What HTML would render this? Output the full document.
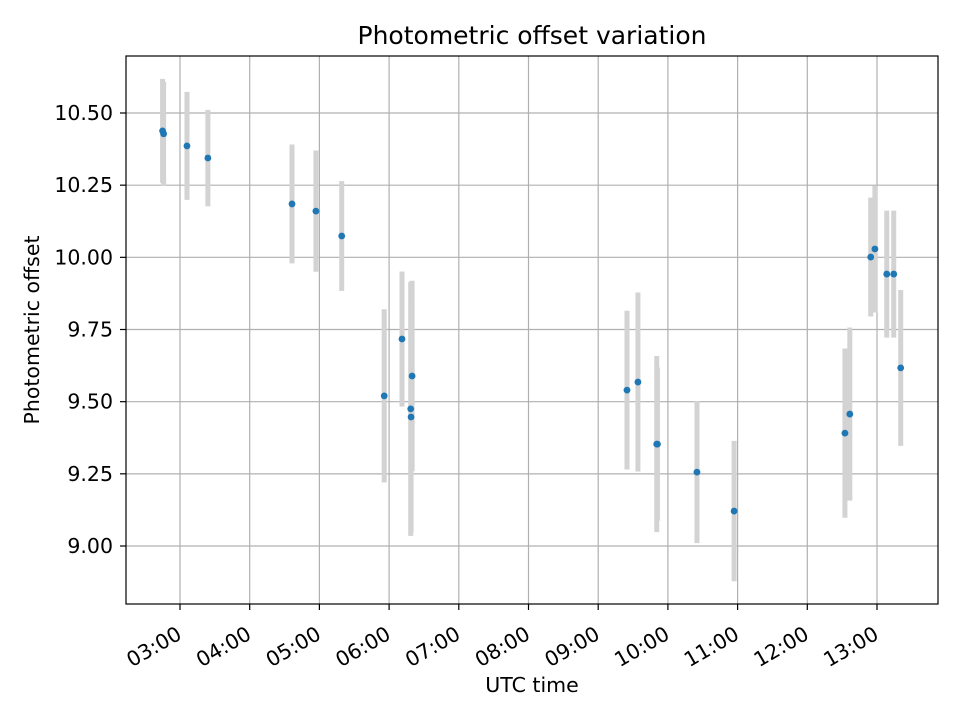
<!DOCTYPE html>
<html><head><meta charset="utf-8"><style>
body{margin:0;background:#fff;font-family:"DejaVu Sans","Liberation Sans",sans-serif}
</style></head><body>
<svg id="chart" width="960" height="720" xmlns="http://www.w3.org/2000/svg" font-family="DejaVu Sans, Liberation Sans, sans-serif">
<rect width="960" height="720" fill="#fff"/>
<text x="532" y="44" text-anchor="middle" font-size="25">Photometric offset variation</text>
<text x="532" y="692" text-anchor="middle" font-size="20.5">UTC time</text>
<text transform="translate(39,330) rotate(-90)" text-anchor="middle" font-size="20.5">Photometric offset</text>
<g id="grid"></g><g id="errs"></g><g id="pts"></g><g id="ticks"></g>
<rect x="126" y="56" width="812" height="548" fill="none" stroke="#000" stroke-width="1.2"/>
</svg>
<script>
const times=[2.75,2.765,3.10,3.40,4.607,4.95,5.32,5.93,6.185,6.33,6.31,6.315,9.413,9.57,9.84,9.85,10.417,10.95,12.54,12.61,12.91,12.97,13.14,13.24,13.34];
const values=[10.438,10.428,10.386,10.344,10.185,10.16,10.074,9.52,9.717,9.589,9.475,9.447,9.540,9.568,9.353,9.353,9.256,9.121,9.391,9.457,10.001,10.029,9.942,9.942,9.617];
const errors=[0.18,0.18,0.187,0.167,0.206,0.21,0.19,0.30,0.234,0.33,0.44,0.40,0.275,0.31,0.305,0.265,0.246,0.243,0.293,0.30,0.206,0.22,0.22,0.22,0.27];
const xTicks=[3,4,5,6,7,8,9,10,11,12,13];
const xTickLabels=["03:00","04:00","05:00","06:00","07:00","08:00","09:00","10:00","11:00","12:00","13:00"];
const yTicks=[9.0,9.25,9.5,9.75,10.0,10.25,10.5];
const yTickLabels=["9.00","9.25","9.50","9.75","10.00","10.25","10.50"];
const NS="http://www.w3.org/2000/svg";
const X=h=>180+(h-3)*69.7;
const Y=v=>113+(10.5-v)*288.67;
function mk(tag,attrs,parent){const e=document.createElementNS(NS,tag);for(const k in attrs)e.setAttribute(k,attrs[k]);parent.appendChild(e);return e;}
const grid=document.getElementById('grid'),errs=document.getElementById('errs'),pts=document.getElementById('pts'),ticks=document.getElementById('ticks');
xTicks.forEach((t,i)=>{
  const x=X(t);
  const g=mk('line',{x1:x,x2:x,y1:56,y2:604,stroke:'#b0b0b0','stroke-width':1.2},grid);
  
  
  const tk=mk('line',{x1:x,x2:x,y1:604,y2:610,stroke:'#000','stroke-width':1.2},ticks);
  
  
  const tx=mk('text',{x:0,y:0,'text-anchor':'end','font-size':20.5,transform:`translate(${x+3},${638}) rotate(-30)`},ticks);
  tx.textContent=xTickLabels[i];
  
  
});
yTicks.forEach((t,i)=>{
  const y=Y(t);
  const g=mk('line',{x1:126,x2:938,y1:y,y2:y,stroke:'#b0b0b0','stroke-width':1.2},grid);
  
  
  const tk=mk('line',{x1:120,x2:126,y1:y,y2:y,stroke:'#000','stroke-width':1.2},ticks);
  
  
  const tx=mk('text',{x:113,y:y+7,'text-anchor':'end','font-size':20.5},ticks);
  tx.textContent=yTickLabels[i];
  
  
});
times.forEach((t,i)=>{
  const x=X(t);
  const e=mk('line',{x1:x,x2:x,y1:Y(values[i]+errors[i]),y2:Y(values[i]-errors[i]),stroke:'#d3d3d3','stroke-width':5},errs);
  
  
  const c=mk('circle',{cx:x,cy:Y(values[i]),r:3.4,fill:'#1f77b4'},pts);
  
  
});
</script>
</body></html>
